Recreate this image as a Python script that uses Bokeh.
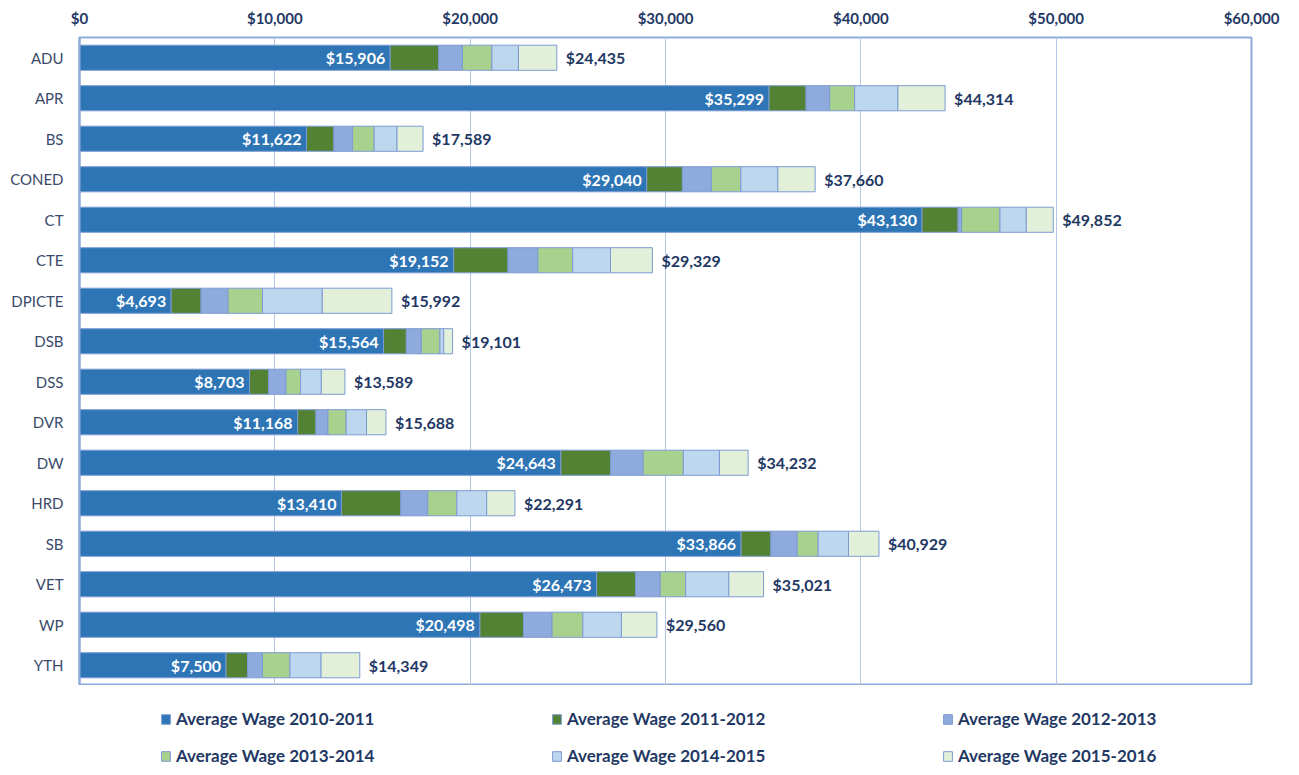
import numpy as np
from bokeh.plotting import figure
from bokeh.models import (ColumnDataSource, FactorRange, Range1d, NumeralTickFormatter,
                          FixedTicker, Legend, LegendItem, Spacer)
from bokeh.layouts import row, column
from bokeh.core.properties import value
from bokeh.embed import file_html
from bokeh.resources import INLINE

cats = ["ADU", "APR", "BS", "CONED", "CT", "CTE", "DPICTE", "DSB", "DSS", "DVR",
        "DW", "HRD", "SB", "VET", "WP", "YTH"]
w1011 = [15906, 35299, 11622, 29040, 43130, 19152, 4693, 15564, 8703, 11168,
         24643, 13410, 33866, 26473, 20498, 7500]
w1112 = [2486, 1895, 1403, 1826, 1849, 2784, 1530, 1169, 978, 935,
         2550, 3039, 1530, 1997, 2231, 1105]
w1213 = [1211, 1210, 956, 1484, 183, 1530, 1381, 765, 893, 616,
         1660, 1381, 1347, 1256, 1466, 765]
w1314 = [1509, 1278, 1105, 1507, 1963, 1785, 1764, 956, 744, 935,
         2060, 1488, 1073, 1301, 1573, 1403]
w1415 = [1360, 2215, 1169, 1895, 1347, 1934, 3060, 191, 1063, 1041,
         1849, 1530, 1552, 2215, 1976, 1594]
w1516 = [1963, 2417, 1334, 1908, 1380, 2144, 3564, 456, 1208, 993,
         1470, 1443, 1561, 1779, 1816, 1982]
series_labels = ["Average Wage 2010-2011", "Average Wage 2011-2012", "Average Wage 2012-2013",
                 "Average Wage 2013-2014", "Average Wage 2014-2015", "Average Wage 2015-2016"]
x_ticks = [0, 10000, 20000, 30000, 40000, 50000, 60000]

keys = ["w1011", "w1112", "w1213", "w1314", "w1415", "w1516"]
colors = ["#2e75b6", "#548235", "#8faadc", "#a9d18e", "#bdd7ee", "#e2f0d9"]
totals = [sum(v) for v in zip(w1011, w1112, w1213, w1314, w1415, w1516)]

source = ColumnDataSource(dict(
    cat=cats, w1011=w1011, w1112=w1112, w1213=w1213, w1314=w1314, w1415=w1415, w1516=w1516,
    total=totals,
    first_lbl=["${:,}".format(v) for v in w1011],
    total_lbl=["${:,}".format(v) for v in totals],
))

FONT = "Lato"
NAVY = "#1f3864"
EDGE = "#7c9bd3"

p = figure(frame_width=1172, frame_height=648, output_backend="svg", toolbar_location=None,
           y_range=FactorRange(factors=list(reversed(cats)), range_padding=0),
           x_range=Range1d(0, 60000), x_axis_location="above",
           min_border_left=0, min_border_right=36, min_border_top=0, min_border_bottom=0)

p.outline_line_color = "#8faadc"
p.outline_line_width = 2
p.background_fill_color = "white"
p.border_fill_color = "white"

p.xgrid.grid_line_color = "#b4c7e7"
p.xgrid.grid_line_width = 1
p.ygrid.grid_line_color = None
p.xaxis.ticker = FixedTicker(ticks=x_ticks)
p.xaxis.formatter = NumeralTickFormatter(format="$0,0")
p.xaxis.axis_line_color = None
p.xaxis.major_tick_line_color = None
p.xaxis.minor_tick_line_color = None
p.xaxis.major_tick_out = 0
p.xaxis.major_tick_in = 0
p.xaxis.minor_tick_out = 0
p.xaxis.major_label_standoff = 11
p.xaxis.major_label_text_font = FONT
p.xaxis.major_label_text_font_style = "bold"
p.xaxis.major_label_text_font_size = "15px"
p.xaxis.major_label_text_color = NAVY

p.yaxis.axis_line_color = "#8faadc"
p.yaxis.axis_line_width = 2
p.yaxis.major_tick_line_color = None
p.yaxis.minor_tick_line_color = None
p.yaxis.major_tick_out = 0
p.yaxis.major_tick_in = 0
p.yaxis.minor_tick_out = 0
p.yaxis.major_label_standoff = 16
p.yaxis.major_label_text_font = FONT
p.yaxis.major_label_text_font_size = "15px"
p.yaxis.major_label_text_color = "#3b4a6b"

p.hbar_stack(keys, y="cat", height=0.62, color=colors, source=source,
             line_color=EDGE, line_width=1)

p.text(x="w1011", y="cat", text="first_lbl", source=source, x_offset=-5,
       text_align="right", text_baseline="middle", text_color="white",
       text_font=value(FONT), text_font_style="bold", text_font_size="16px")
p.text(x="total", y="cat", text="total_lbl", source=source, x_offset=9,
       text_align="left", text_baseline="middle", text_color=NAVY,
       text_font=value(FONT), text_font_style="bold", text_font_size="16px")

# Legend strip below the chart (legend glyph proxies only; nothing drawn in its frame)
lg = figure(width=1283, height=81, output_backend="svg", toolbar_location=None,
            x_range=Range1d(0, 1), y_range=Range1d(0, 1),
            x_axis_type=None, y_axis_type=None,
            min_border_left=0, min_border_right=0, min_border_top=0, min_border_bottom=0)
lg.outline_line_color = None
lg.xgrid.grid_line_color = None
lg.ygrid.grid_line_color = None
lg.background_fill_color = "white"
lg.border_fill_color = "white"

items = []
for lbl, c in zip(series_labels, colors):
    nan = np.array([np.nan])
    r = lg.hbar(y=nan, left=nan, right=nan, height=0.5,
                fill_color=c, line_color=EDGE, line_width=1)
    items.append(LegendItem(label=lbl, renderers=[r]))

legend = Legend(items=items, ncols=3, location=(160, 0), orientation="horizontal",
                padding=0, margin=0, spacing=16, glyph_width=11, glyph_height=12,
                label_standoff=5, label_width=359, label_height=16,
                border_line_color=None, background_fill_alpha=0,
                label_text_font=FONT, label_text_font_style="bold",
                label_text_font_size="17px", label_text_color=NAVY)
lg.add_layout(legend, "center")

layout = column(Spacer(height=5), row(Spacer(width=7), p), lg)

open("out.html", "w").write(file_html(layout, INLINE))
